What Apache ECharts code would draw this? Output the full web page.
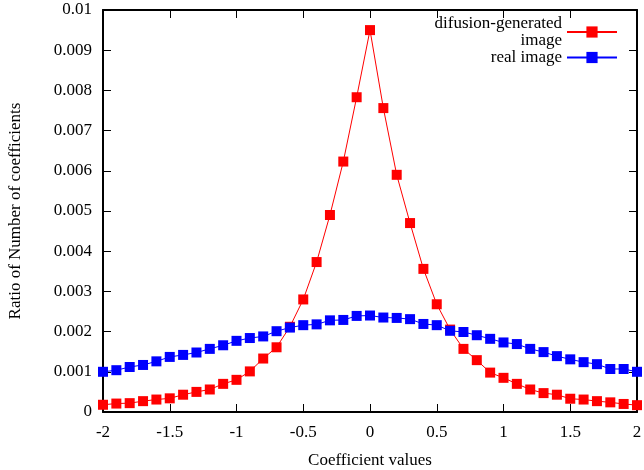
<!DOCTYPE html>
<html>
<head>
<meta charset="utf-8">
<script src="https://cdn.jsdelivr.net/npm/echarts@6/dist/echarts.min.js"></script>
<style>
  html, body { margin: 0; padding: 0; background: #fff; }
  #chart { width: 644px; height: 470px; }
</style>
</head>
<body>
<div id="chart"></div>
<script>
// coefficient values (x)
var coefValues = [-2, -1.9, -1.8, -1.7, -1.6, -1.5, -1.4, -1.3, -1.2, -1.1, -1,
    -0.9, -0.8, -0.7, -0.6, -0.5, -0.4, -0.3, -0.2, -0.1, 0,
    0.1, 0.2, 0.3, 0.4, 0.5, 0.6, 0.7, 0.8, 0.9, 1,
    1.1, 1.2, 1.3, 1.4, 1.5, 1.6, 1.7, 1.8, 1.9, 2];

// difusion-generated image
var genRatio = [0.00018, 0.00021, 0.00022, 0.00027, 0.00031, 0.00034, 0.00043, 0.0005, 0.00056, 0.0007, 0.0008,
    0.00101, 0.00133, 0.00161, 0.00212, 0.0028, 0.00373, 0.0049, 0.00623, 0.00783, 0.0095,
    0.00756, 0.0059, 0.0047, 0.00356, 0.00268, 0.00205, 0.00157, 0.00129, 0.00098, 0.00085,
    0.0007, 0.00056, 0.00047, 0.00043, 0.00033, 0.00031, 0.00027, 0.00024, 0.0002, 0.00017];

// real image
var realRatio = [0.001, 0.00104, 0.00112, 0.00117, 0.00126, 0.00137, 0.00142, 0.00148, 0.00157, 0.00166, 0.00177,
    0.00184, 0.00188, 0.00201, 0.0021, 0.00216, 0.00218, 0.00228, 0.00229, 0.00239, 0.0024,
    0.00235, 0.00234, 0.00231, 0.00219, 0.00216, 0.00202, 0.00199, 0.00191, 0.00182, 0.00173,
    0.00169, 0.00157, 0.00149, 0.00139, 0.00131, 0.00124, 0.00119, 0.00107, 0.00107, 0.001];

var seriesNames = ['difusion-generated\nimage', 'real image'];

function pairs(ys) {
    var out = [];
    for (var i = 0; i < coefValues.length; i++) {
        out.push([coefValues[i], ys[i]]);
    }
    return out;
}

var fontFam = '"Liberation Serif", "DejaVu Serif", serif';
var chart = echarts.init(document.getElementById('chart'));

var tickStyle = { inside: true, length: 8, lineStyle: { color: '#000', width: 1 } };
var lineStyleAxis = { show: true, onZero: false, lineStyle: { color: '#000', width: 2 } };

var option = {
    animation: false,
    backgroundColor: '#fff',
    grid: { left: 103, right: 7, top: 10, bottom: 58, containLabel: false, outerBoundsMode: 'none' },
    legend: {
        orient: 'vertical',
        align: 'right',
        right: 21,
        top: 10,
        itemWidth: 50,
        itemHeight: 14,
        itemGap: 0,
        textStyle: { fontFamily: fontFam, fontSize: 17, lineHeight: 17, color: '#000' },
        data: seriesNames
    },
    xAxis: [
        {
            type: 'value', min: -2, max: 2, interval: 0.5,
            name: 'Coefficient values', nameLocation: 'middle', nameGap: 40,
            nameTextStyle: { fontFamily: fontFam, fontSize: 17, color: '#000' },
            axisLine: lineStyleAxis, axisTick: tickStyle,
            axisLabel: { fontFamily: fontFam, fontSize: 17, color: '#000', margin: 12 },
            splitLine: { show: false }
        },
        {
            type: 'value', min: -2, max: 2, interval: 0.5, position: 'top',
            axisLine: lineStyleAxis, axisTick: tickStyle,
            axisLabel: { show: false }, splitLine: { show: false }
        }
    ],
    yAxis: [
        {
            type: 'value', min: 0, max: 0.01, interval: 0.001,
            name: 'Ratio of Number of coefficients', nameLocation: 'middle', nameGap: 79,
            nameTextStyle: { fontFamily: fontFam, fontSize: 17, color: '#000' },
            axisLine: lineStyleAxis, axisTick: tickStyle,
            axisLabel: { fontFamily: fontFam, fontSize: 17, color: '#000', margin: 11 },
            splitLine: { show: false }
        },
        {
            type: 'value', min: 0, max: 0.01, interval: 0.001, position: 'right',
            axisLine: lineStyleAxis, axisTick: tickStyle,
            axisLabel: { show: false }, splitLine: { show: false }
        }
    ],
    series: [
        {
            name: seriesNames[0],
            type: 'line',
            data: pairs(genRatio),
            symbol: 'rect',
            symbolSize: 10,
            color: '#ff0000',
            lineStyle: { color: '#ff0000', width: 1 },
            itemStyle: { color: '#ff0000' },
            z: 2
        },
        {
            name: seriesNames[1],
            type: 'line',
            data: pairs(realRatio),
            symbol: 'rect',
            symbolSize: 10,
            color: '#0000ff',
            lineStyle: { color: '#0000ff', width: 1 },
            itemStyle: { color: '#0000ff' },
            z: 3
        }
    ]
};

chart.setOption(option);
</script>
</body>
</html>
